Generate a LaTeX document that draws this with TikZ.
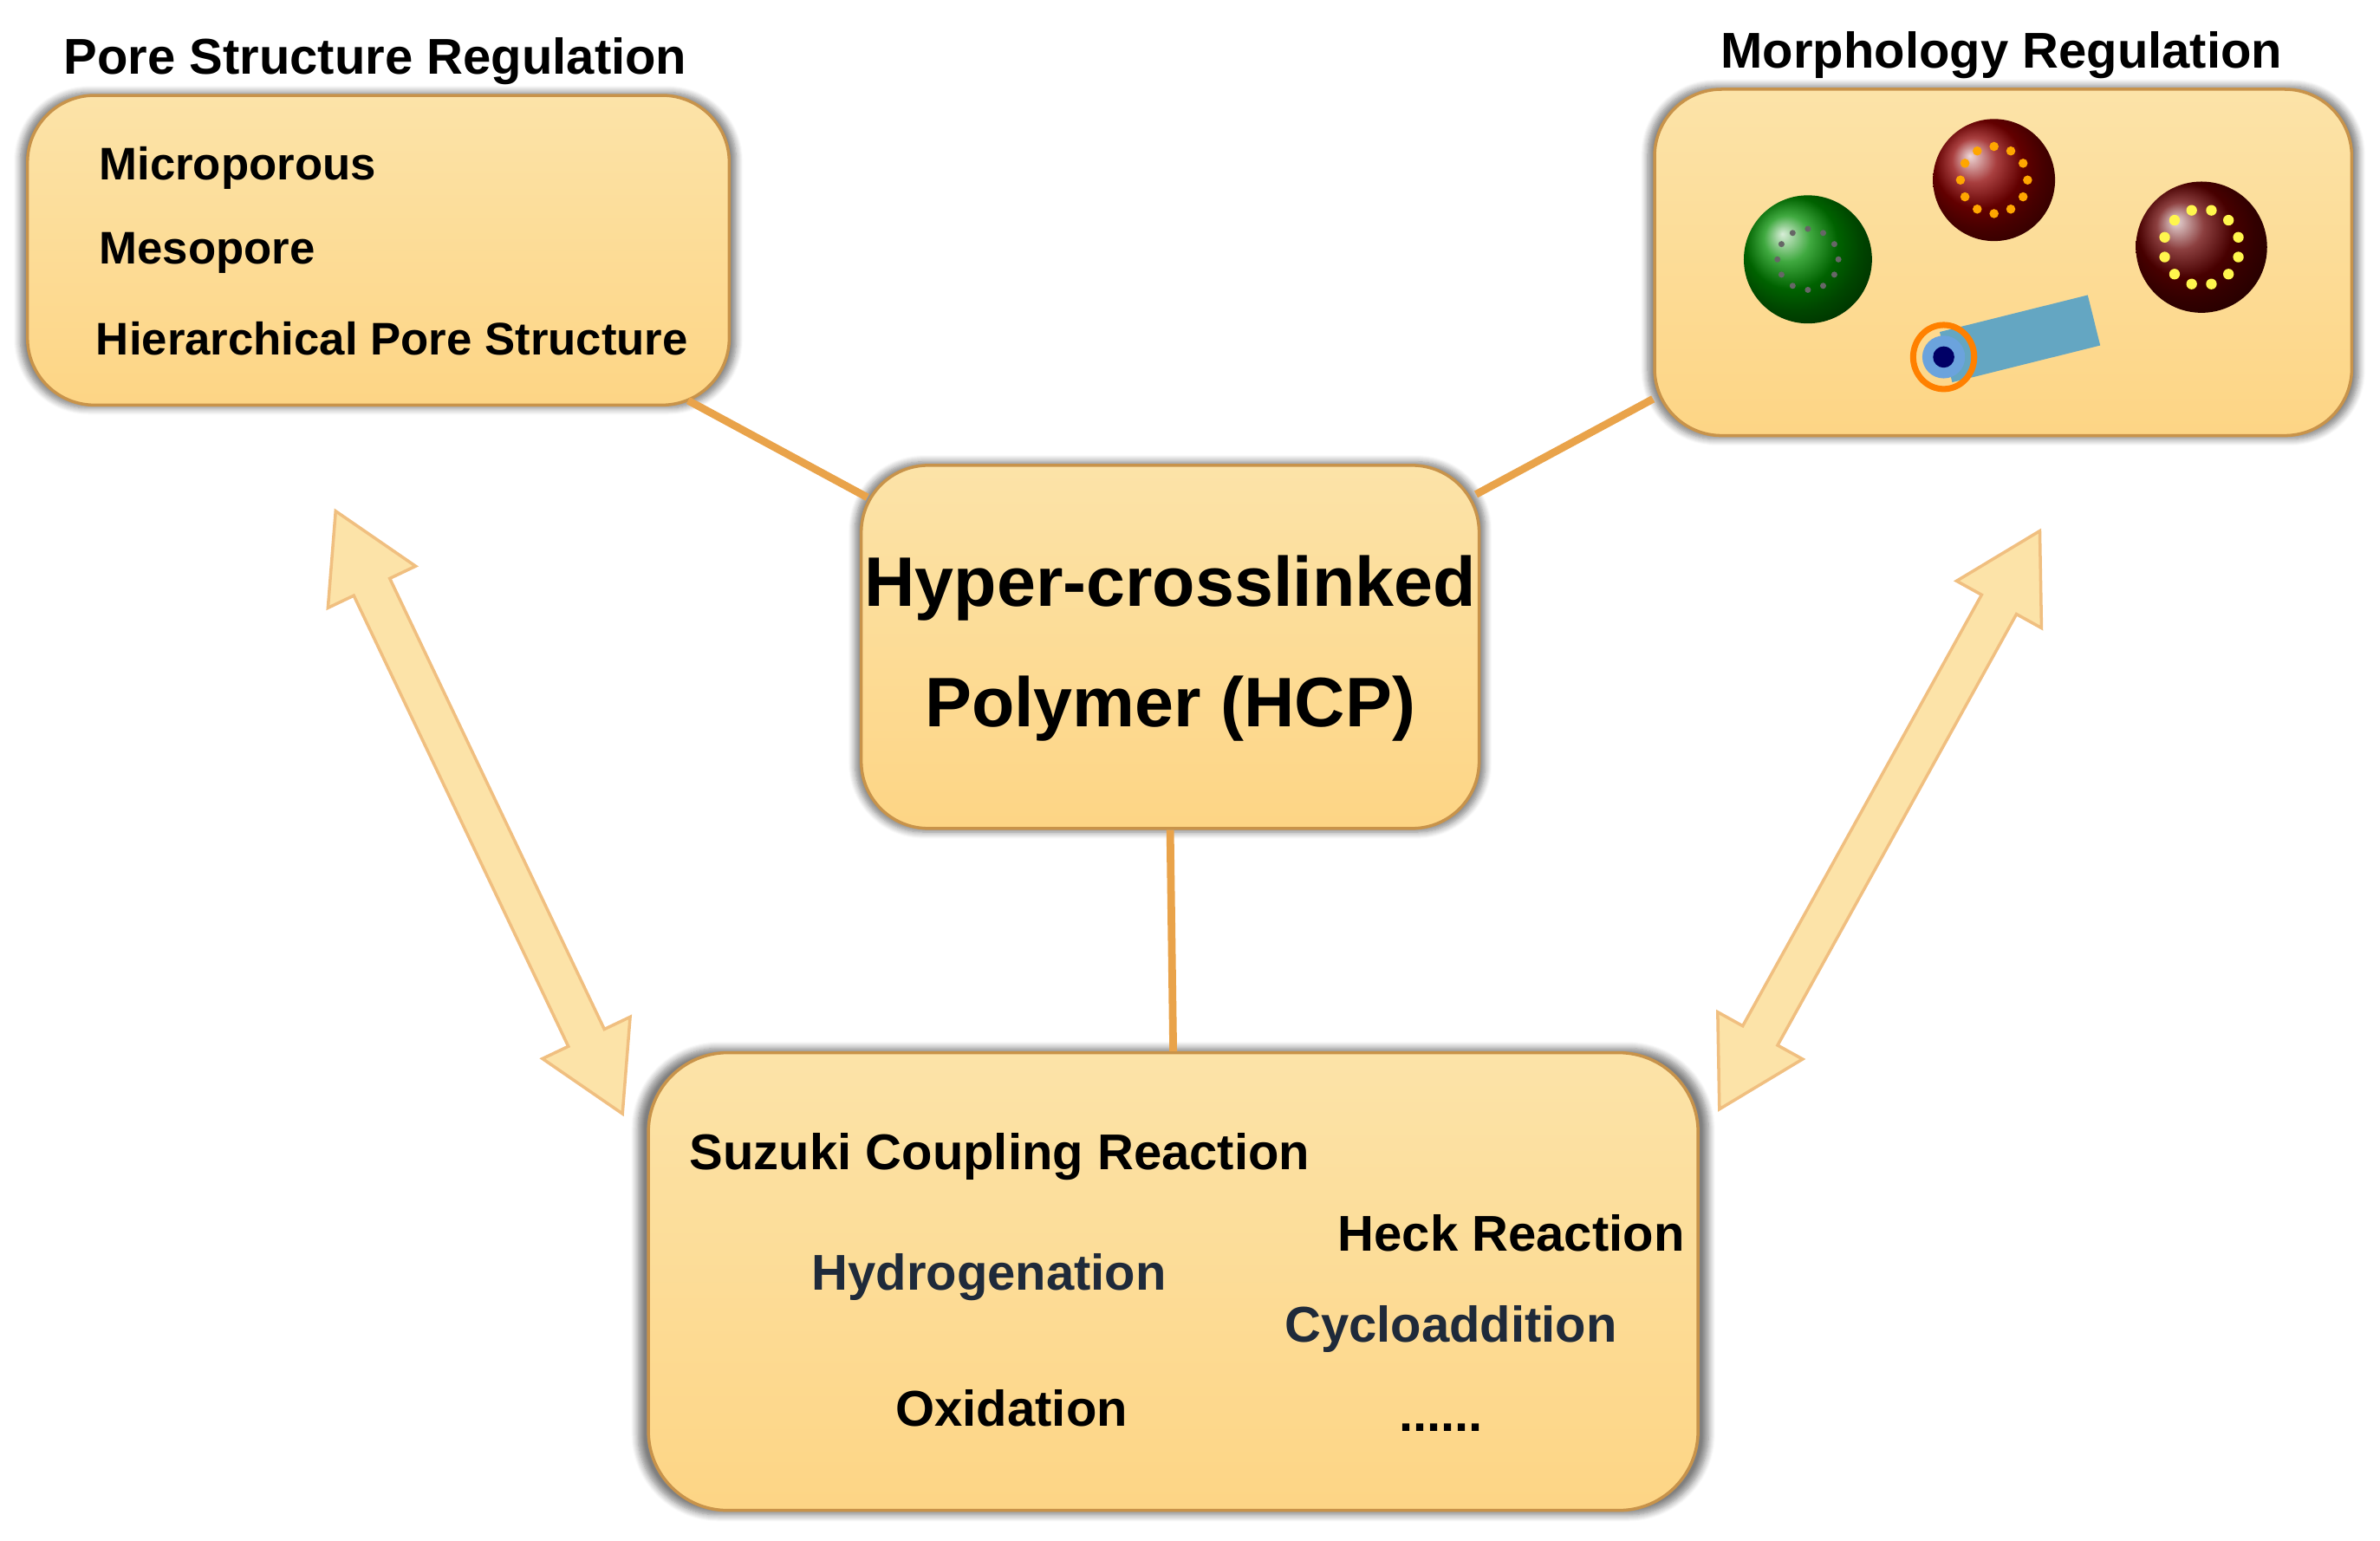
\documentclass[tikz,border=0pt]{standalone}
\usepackage{fontspec}
\setmainfont{Liberation Sans}
\usetikzlibrary{shapes,calc,shadows.blur}
\definecolor{boxfill}{HTML}{FDD585}
\definecolor{boxtop}{HTML}{FCE3A8}
\definecolor{boxline}{HTML}{C8934A}
\definecolor{linkcol}{HTML}{E9A34A}
\definecolor{slate}{HTML}{1F2A3A}
\tikzset{
  panel/.style={draw=boxline,line width=1pt,rounded corners=22pt,top color=boxtop,bottom color=boxfill,
    blur shadow={shadow xshift=0pt,shadow yshift=0pt,shadow blur steps=8,shadow opacity=50,shadow scale=1.02}},
  item/.style={font=\bfseries\fontsize{15}{18}\selectfont,anchor=west,text=black},
  react/.style={item,font=\bfseries\fontsize{16.5}{19}\selectfont},
  ttl/.style={font=\bfseries\fontsize{16.5}{19}\selectfont,text=black},
  link/.style={linkcol,line width=2.5pt},
  fat/.style={draw=linkcol!70,fill=boxtop,line width=1pt,line join=miter}
}
\newcommand\fatarrow[2]{%
  \coordinate (h1) at ($(#1)!9.7mm!(#2)$);
  \coordinate (h2) at ($(#2)!9.7mm!(#1)$);
  \draw[fat] (#1) -- ($(h1)!5.6mm!90:(#1)$) -- ($(h1)!2.3mm!90:(#1)$) -- ($(h2)!2.3mm!-90:(#2)$)
    -- ($(h2)!5.6mm!-90:(#2)$) -- (#2) -- ($(h2)!5.6mm!90:(#2)$) -- ($(h2)!2.3mm!90:(#2)$)
    -- ($(h1)!2.3mm!-90:(#1)$) -- ($(h1)!5.6mm!-90:(#1)$) -- cycle;}
\begin{document}
\begin{tikzpicture}[x=0.176mm,y=-0.176mm]
	\useasboundingbox (0,0) rectangle (1560,1010);
	% boxes
	\node[panel,minimum width=460*0.176mm,minimum height=203*0.176mm] (pore) at (248,164) {};
	\node[panel,minimum width=457*0.176mm,minimum height=227*0.176mm] (morph) at (1313,172) {};
	\node[panel,minimum width=405*0.176mm,minimum height=238*0.176mm] (hcp) at (767,424) {};
	\node[panel,minimum width=688*0.176mm,minimum height=300*0.176mm,rounded corners=26pt] (react) at (769,840) {};
	
	% titles
	\node[ttl] (poret) at (246,40) {Pore Structure Regulation};
	\node[ttl] (morpht) at (1312,36) {Morphology Regulation};
	
	% pore items
	\node[item] (micro) at (58,110) {Microporous};
	\node[item] (meso) at (58,166) {Mesopore};
	\node[item] (hier) at (56,222) {Hierarchical Pore Structure};
	
	% hcp text
	\node[font=\bfseries\fontsize{23}{28}\selectfont,align=center] (hcpt) at (767,425) {Hyper-crosslinked\\[4mm]Polymer (HCP)};
	
	% reactions
	\node[react] (suz) at (445,758) {Suzuki Coupling Reaction};
	\node[react] (heck) at (870,808) {Heck Reaction};
	\node[react,text=slate] (hydro) at (525,837) {Hydrogenation};
	\node[react,text=slate] (cyclo) at (835,871) {Cycloaddition};
	\node[react] (oxi) at (580,923) {Oxidation};
	\node[react] (dots) at (910,936) {......};
	
	% morphology pictures
	\shade[ball color=green!55!black] (1185,170) circle (42);
	\shade[ball color=red!55!black] (1307,118) circle (40);
	\shade[ball color=red!40!black] (1443,162) circle (43);
	\foreach \a in {0,30,...,330}{
		\fill[orange!70!yellow] ($(1307,118)+(\a:22)$) circle (3);
		\fill[yellow!70] ($(1443,162)+(\a+15:25)$) circle (3.5);
		\fill[black!60] ($(1185,170)+(\a:20)$) circle (2);
	}
	\fill[cyan!50!gray,rotate around={14:(1324,222)}] (1274,205) rectangle (1374,239);
	\draw[orange,line width=2pt] (1274,234) ellipse (20 and 21);
	\fill[cyan!60!blue!60] (1274,234) circle (14);
	\fill[blue!40!black] (1274,234) circle (7);
	
	% links
	\draw[link] (pore.south east) ++(-28,-4) -- ($(hcp.north west)+(5,22)$);
	\draw[link] ($(morph.south west)+(0,-25)$) -- ($(hcp.north east)+(-3,20)$);
	\draw[link] (hcp.south) -- (react.north);
	
	% double arrows
	\coordinate (a1) at (220,335); \coordinate (a2) at (408,730);
	\coordinate (b1) at (1337,348); \coordinate (b2) at (1127,727);
	\fatarrow{a1}{a2}
	\fatarrow{b1}{b2}
\end{tikzpicture}
\end{document}
